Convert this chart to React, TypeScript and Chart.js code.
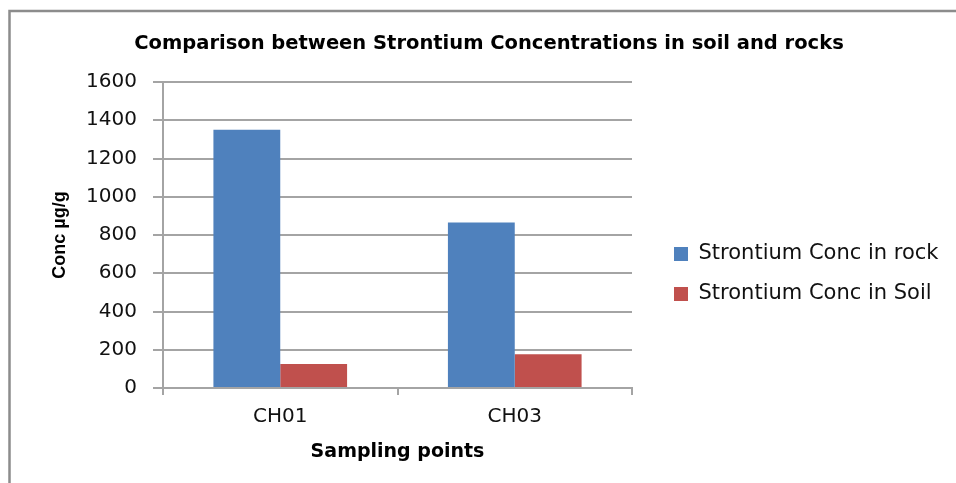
import React, { useEffect, useRef } from "react";
import { Chart, registerables } from "chart.js";

Chart.register(...registerables);

// ---- data ----
const categories = ["CH01", "CH03"];
const rockValues = [1350, 865];
const soilValues = [125, 177];
const seriesLabels = ["Strontium Conc in rock", "Strontium Conc in Soil"];
const yMin = 0;
const yMax = 1600;
const yStep = 200;
const chartTitle = "Comparison between Strontium Concentrations in soil and rocks";
const xAxisTitle = "Sampling points";
const yAxisTitle = "Conc µg/g";

// ---- styles ----
const W = 956;
const H = 483;
const BLUE = "#4F81BD";
const RED = "#C0504D";
const GRID = "#a4a4a4";
const LEGEND_W = 324;
const LEGEND_BOX_X = 674;
const LEGEND_FIRST_Y = 254;

const layoutPlugin = {
  id: "layoutTweaks",
  beforeLayout(chart: any) {
    const lg = chart.legend;
    if (lg && !lg.__fixed) {
      const origFit = lg.fit.bind(lg);
      lg.fit = () => {
        origFit();
        lg.width = LEGEND_W;
      };
      lg.__fixed = true;
    }
  },
  afterLayout(chart: any) {
    const lg = chart.legend;
    if (!lg || !lg.columnSizes || !lg.columnSizes.length) return;
    const pad = lg.options.labels.padding;
    const fontSize = lg.options.labels.font.size;
    const itemH = Math.max(fontSize, lg.options.labels.boxHeight || fontSize);
    lg.left = LEGEND_BOX_X - pad;
    lg.right = lg.left + lg.width;
    const top = LEGEND_FIRST_Y - itemH / 2 - pad;
    lg.top = top;
    lg.bottom = top + pad + lg.columnSizes[0].height;
    lg.height = lg.bottom - lg.top;
  },
  beforeDraw(chart: any) {
    const ctx = chart.ctx;
    ctx.save();
    ctx.strokeStyle = "#8c8c8c";
    ctx.lineWidth = 2.5;
    ctx.lineCap = "butt";
    ctx.beginPath();
    ctx.moveTo(9.5, H);
    ctx.lineTo(9.5, 11);
    ctx.lineTo(W, 11);
    ctx.stroke();
    ctx.restore();
  },
};

export default function App() {
  const ref = useRef<HTMLCanvasElement | null>(null);

  useEffect(() => {
    if (!ref.current) return;
    const chart = new Chart(ref.current, {
      type: "bar",
      data: {
        labels: categories,
        datasets: [
          {
            label: seriesLabels[0],
            data: rockValues,
            backgroundColor: BLUE,
            borderWidth: 0,
          },
          {
            label: seriesLabels[1],
            data: soilValues,
            backgroundColor: RED,
            borderWidth: 0,
          },
        ],
      },
      options: {
        responsive: false,
        animation: false,
        devicePixelRatio: 1,
        layout: { padding: { left: 22, right: 0, top: 0, bottom: 0 } },
        datasets: {
          bar: { categoryPercentage: 0.57, barPercentage: 1.0 },
        },
        plugins: {
          tooltip: { enabled: false },
          title: {
            display: true,
            text: chartTitle,
            color: "#000",
            font: { family: "DejaVu Sans", size: 19.5, weight: "bold" },
            padding: { top: 32, bottom: 26.6 },
          },
          legend: {
            display: true,
            position: "right",
            labels: {
              boxWidth: 14,
              boxHeight: 14,
              padding: 19,
              color: "#111",
              font: { family: "DejaVu Sans", size: 21 },
            },
          },
        },
        scales: {
          x: {
            afterFit(scale: any) {
              scale.height = 95;
            },
            grid: {
              display: true,
              drawOnChartArea: false,
              drawTicks: true,
              tickLength: 7,
              color: GRID,
              lineWidth: 2,
              offset: true,
            },
            border: { display: true, color: GRID, width: 2 },
            ticks: {
              color: "#111",
              padding: 10,
              font: { family: "DejaVu Sans", size: 20 },
            },
            title: {
              display: true,
              text: xAxisTitle,
              color: "#000",
              font: { family: "DejaVu Sans", size: 19, weight: "bold" },
              padding: { top: 0, bottom: 20 },
            },
          },
          y: {
            min: yMin,
            max: yMax,
            afterFit(scale: any) {
              scale.width = 141;
            },
            grid: {
              display: true,
              drawOnChartArea: true,
              drawTicks: true,
              tickLength: 10,
              color: GRID,
              lineWidth: 2,
            },
            border: { display: true, color: GRID, width: 2 },
            ticks: {
              stepSize: yStep,
              color: "#111",
              padding: 16,
              font: { family: "DejaVu Sans", size: 20 },
              callback: (v: any) => String(v),
            },
            title: {
              display: true,
              text: yAxisTitle,
              color: "#000",
              font: { family: "'Liberation Sans'", size: 18, weight: "bold" },
              padding: { top: 27, bottom: 0 },
            },
          },
        },
      },
      plugins: [layoutPlugin],
    });
    return () => chart.destroy();
  }, []);

  return (
    <div style={{ position: "fixed", left: 0, top: 0, width: W, height: H, background: "#fff" }}>
      <canvas ref={ref} width={W} height={H} style={{ width: W, height: H, display: "block" }} />
    </div>
  );
}
